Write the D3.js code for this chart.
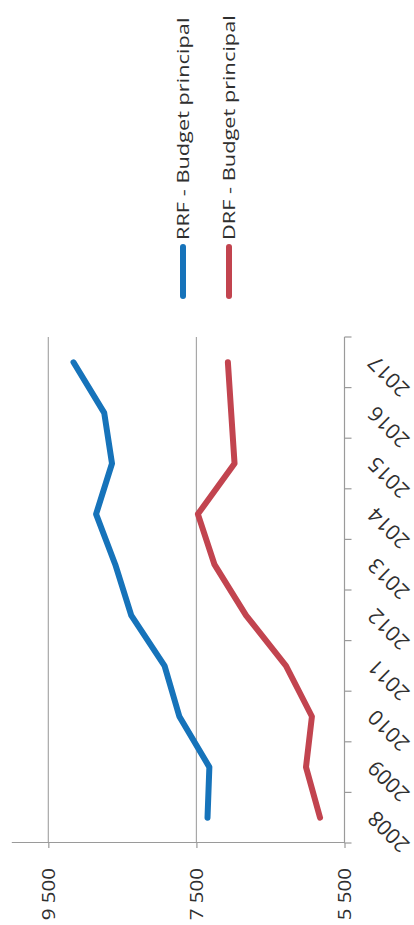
<!DOCTYPE html>
<html>
<head>
<meta charset="utf-8">
<script src="https://cdn.jsdelivr.net/npm/d3@7"></script>
<style>
  html, body { margin: 0; padding: 0; background: #ffffff; }
  svg { display: block; }
  text { font-family: "Open Sans", "Noto Sans", sans-serif; fill: #2f2f2f; }
</style>
</head>
<body>
<div id="chart"></div>
<script>
// Budget principal, RRF vs DRF, 2008-2017
const years = ["2008", "2009", "2010", "2011", "2012", "2013", "2014", "2015", "2016", "2017"];
const rrfValues = [7350, 7325, 7730, 7930, 8380, 8595, 8855, 8640, 8745, 9160];
const drfValues = [5830, 6020, 5940, 6290, 6830, 7255, 7480, 6985, 7030, 7075];
const valueTicks = [5500, 7500, 9500];
const seriesNames = ["RRF - Budget principal", "DRF - Budget principal"];
const seriesColors = ["#1673ba", "#c2444f"];

const pageW = 414, pageH = 925;

const svg = d3.select("#chart").append("svg")
  .attr("width", pageW)
  .attr("height", pageH);

// The chart is laid out in landscape and turned a quarter turn counter-clockwise.
const g = svg.append("g")
  .attr("transform", `translate(0,${pageH}) rotate(-90)`);

const x = d3.scaleBand().domain(years).range([82, 588]);
const y = d3.scaleLinear().domain([5500, 10000]).range([344.5, 11.3]);

const locale = d3.formatLocale({ decimal: ",", thousands: " ", grouping: [3], currency: ["", " €"] });
const fmt = locale.format(",");

// Widen glyphs along the reading direction
function widen(factor) {
  return sel => sel.each(function () {
    const len = this.getComputedTextLength();
    d3.select(this)
      .attr("textLength", len * factor)
      .attr("lengthAdjust", "spacingAndGlyphs");
  });
}

// Horizontal gridlines
g.append("g")
  .selectAll("line")
  .data(valueTicks.filter(v => v !== 5500))
  .join("line")
  .attr("x1", x.range()[0])
  .attr("x2", x.range()[1])
  .attr("y1", d => y(d))
  .attr("y2", d => y(d))
  .attr("stroke", "#a8a8a8")
  .attr("stroke-width", 1.2);

// Value axis
const yAxis = g.append("g")
  .attr("transform", `translate(${x.range()[0]},0)`)
  .call(d3.axisLeft(y).tickValues(valueTicks).tickSize(5).tickSizeOuter(0).tickPadding(20).tickFormat(fmt));
yAxis.select(".domain").attr("stroke", "#9a9a9a").attr("stroke-width", 1.2);
yAxis.selectAll(".tick line").attr("stroke", "#9a9a9a").attr("stroke-width", 1.2);
yAxis.selectAll(".tick text")
  .attr("font-size", 18)
  .attr("font-family", "'Open Sans', sans-serif")
  .style("fill", "#2f2f2f")
  .call(widen(1.14));

// Category axis along the 5 500 baseline
const base = y(5500);
const catAxis = g.append("g");
catAxis.append("line")
  .attr("x1", x.range()[0])
  .attr("x2", x.range()[1])
  .attr("y1", base)
  .attr("y2", base)
  .attr("stroke", "#9a9a9a")
  .attr("stroke-width", 1.2);
catAxis.selectAll("line.tick")
  .data(years.map(d => x(d)).concat([x.range()[1]]))
  .join("line")
  .attr("class", "tick")
  .attr("x1", d => d)
  .attr("x2", d => d)
  .attr("y1", base)
  .attr("y2", base + 7)
  .attr("stroke", "#9a9a9a")
  .attr("stroke-width", 1.2);
catAxis.selectAll("text")
  .data(years)
  .join("text")
  .attr("transform", d => `translate(${x(d) + x.bandwidth() / 2 + 3},${base + 27}) rotate(-45)`)
  .attr("text-anchor", "end")
  .attr("dy", "0.35em")
  .attr("font-size", 21)
  .text(d => d);

// Series lines
const line = d3.line()
  .x((d, i) => x(years[i]) + x.bandwidth() / 2)
  .y(d => y(d));

[rrfValues, drfValues].forEach((vals, k) => {
  g.append("path")
    .datum(vals)
    .attr("d", line)
    .attr("fill", "none")
    .attr("stroke", seriesColors[k])
    .attr("stroke-width", 6)
    .attr("stroke-linecap", "round")
    .attr("stroke-linejoin", "round");
});

// Legend
const legend = g.append("g");
const legendY = [183, 229];
seriesNames.forEach((name, k) => {
  legend.append("line")
    .attr("x1", 629)
    .attr("x2", 678)
    .attr("y1", legendY[k])
    .attr("y2", legendY[k])
    .attr("stroke", seriesColors[k])
    .attr("stroke-width", 6)
    .attr("stroke-linecap", "round");
  legend.append("text")
    .attr("x", 685)
    .attr("y", legendY[k])
    .attr("dy", "0.36em")
    .attr("font-size", 17)
    .text(name)
    .call(widen(1.28));
});
</script>
</body>
</html>
